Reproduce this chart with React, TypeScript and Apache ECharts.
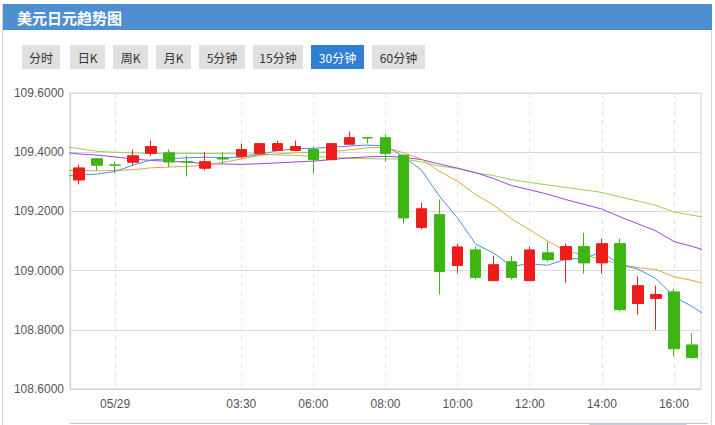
import React, { useEffect, useRef } from "react";
import * as echarts from "echarts";

// Time categories (first and last are just outside the visible window)
const categories: string[] = [
  "05/28 22:30", "05/28 23:00", "05/28 23:30", "05/29 00:00", "05/29 00:30", "05/29 01:00",
  "05/29 01:30", "05/29 02:00", "05/29 02:30", "05/29 03:00", "05/29 03:30", "05/29 04:30",
  "05/29 05:00", "05/29 05:30", "05/29 06:00", "05/29 06:30", "05/29 07:00", "05/29 07:30",
  "05/29 08:00", "05/29 08:30", "05/29 09:00", "05/29 09:30", "05/29 10:00", "05/29 10:30",
  "05/29 11:00", "05/29 11:30", "05/29 12:00", "05/29 12:30", "05/29 13:00", "05/29 13:30",
  "05/29 14:00", "05/29 14:30", "05/29 15:00", "05/29 15:30", "05/29 16:00", "05/29 16:30",
  "05/29 17:00",
];

const shownTicks: string[] = [
  "05/29 00:00", "05/29 03:30", "05/29 06:00", "05/29 08:00",
  "05/29 10:00", "05/29 12:00", "05/29 14:00", "05/29 16:00",
];

// [open, close, low, high] for the visible candles (index 1..35)
const ohlc: number[][] = [
  [109.306, 109.347, 109.291, 109.358],
  [109.378, 109.356, 109.338, 109.378],
  [109.357, 109.356, 109.329, 109.367],
  [109.366, 109.388, 109.355, 109.409],
  [109.396, 109.419, 109.388, 109.439],
  [109.398, 109.367, 109.35, 109.409],
  [109.368, 109.367, 109.318, 109.388],
  [109.346, 109.368, 109.339, 109.4],
  [109.38, 109.377, 109.361, 109.399],
  [109.386, 109.409, 109.379, 109.429],
  [109.395, 109.429, 109.395, 109.429],
  [109.406, 109.429, 109.404, 109.439],
  [109.406, 109.419, 109.406, 109.439],
  [109.409, 109.375, 109.328, 109.419],
  [109.375, 109.429, 109.375, 109.429],
  [109.427, 109.449, 109.427, 109.47],
  [109.449, 109.448, 109.43, 109.449],
  [109.449, 109.396, 109.368, 109.46],
  [109.39, 109.178, 109.159, 109.392],
  [109.146, 109.209, 109.139, 109.229],
  [109.189, 108.997, 108.919, 109.24],
  [109.017, 109.08, 108.99, 109.091],
  [109.07, 108.977, 108.97, 109.081],
  [108.966, 109.02, 108.966, 109.05],
  [109.03, 108.977, 108.97, 109.05],
  [108.966, 109.07, 108.966, 109.081],
  [109.06, 109.037, 109.03, 109.097],
  [109.037, 109.081, 108.959, 109.091],
  [109.081, 109.026, 108.99, 109.128],
  [109.026, 109.091, 108.99, 109.108],
  [109.091, 108.868, 108.862, 109.108],
  [108.889, 108.949, 108.851, 108.98],
  [108.906, 108.919, 108.8, 108.949],
  [108.928, 108.736, 108.711, 108.938],
  [108.749, 108.706, 108.703, 108.789],
];

// Moving-average lines (37 points, incl. one point beyond each edge)
const ma5: number[] = [
  109.318, 109.323, 109.326, 109.335, 109.356, 109.374, 109.378, 109.381, 109.383, 109.382,
  109.383, 109.392, 109.405, 109.412, 109.413, 109.417, 109.421, 109.424, 109.421, 109.385,
  109.339, 109.251, 109.177, 109.09, 109.059, 109.015, 109.023, 109.018, 109.039, 109.041,
  109.063, 109.02, 109.005, 108.973, 108.912, 108.879, 108.84,
];
const ma10: number[] = [
  109.338, 109.338, 109.337, 109.338, 109.341, 109.347, 109.35, 109.352, 109.356, 109.366,
  109.377, 109.389, 109.394, 109.398, 109.399, 109.401, 109.408, 109.415, 109.416, 109.398,
  109.377, 109.335, 109.302, 109.257, 109.221, 109.174, 109.138, 109.099, 109.067, 109.052,
  109.038, 109.021, 109.01, 109.004, 108.979, 108.967, 108.95,
];
const ma20: number[] = [
  109.401, 109.394, 109.39, 109.384, 109.377, 109.372, 109.369, 109.367, 109.361, 109.36,
  109.359, 109.361, 109.364, 109.367, 109.37, 109.375, 109.381, 109.384, 109.386, 109.383,
  109.375, 109.36, 109.346, 109.331, 109.311, 109.287, 109.273, 109.258, 109.24, 109.224,
  109.208, 109.182, 109.158, 109.134, 109.098, 109.082, 109.063,
];
const ma30: number[] = [
  109.421, 109.412, 109.403, 109.4, 109.398, 109.396, 109.396, 109.396, 109.395, 109.395,
  109.395, 109.393, 109.391, 109.389, 109.386, 109.383, 109.379, 109.378, 109.377, 109.377,
  109.367, 109.353, 109.345, 109.33, 109.321, 109.307, 109.298, 109.289, 109.281, 109.273,
  109.264, 109.249, 109.235, 109.22, 109.198, 109.187, 109.177,
];

const buttons: string[] = ["分时", "日K", "周K", "月K", "5分钟", "15分钟", "30分钟", "60分钟"];
const buttonX: number[][] = [
  [22, 38], [70, 35], [113, 35], [156, 35], [199, 46], [253, 50], [311, 53], [372, 53],
];
const activeButton = "30分钟";

const CJK = "'Noto Sans CJK SC', sans-serif";
const LATIN = "'Liberation Sans', Arial, sans-serif";

export default function App() {
  const ref = useRef<HTMLDivElement>(null);

  useEffect(() => {
    if (!ref.current) return;
    const chart = echarts.init(ref.current, undefined, { renderer: "svg" });

    const tickFn = (_i: number, v: string) => shownTicks.includes(v);
    const candleData = [["-", "-", "-", "-"], ...ohlc, ["-", "-", "-", "-"]];

    const graphic: any[] = [
      { type: "line", shape: { x1: 2.5, y1: 4, x2: 2.5, y2: 425 }, style: { stroke: "#d6d6d6", lineWidth: 1 } },
      { type: "line", shape: { x1: 711.5, y1: 4, x2: 711.5, y2: 425 }, style: { stroke: "#d6d6d6", lineWidth: 1 } },
      { type: "rect", shape: { x: 3, y: 4, width: 709, height: 26 }, style: { fill: "#4e8fd0" } },
      {
        type: "text", x: 17, y: 17,
        style: { text: "美元日元趋势图", fill: "#fff", font: `bold 15px ${CJK}`, verticalAlign: "middle" },
      },
      { type: "line", shape: { x1: 70, y1: 423.5, x2: 708, y2: 423.5 }, style: { stroke: "#c8c8c8", lineWidth: 1 } },
      { type: "rect", shape: { x: 589.5, y: 424.5, width: 97, height: 8 }, style: { fill: "#eef2f8", stroke: "#c5d0e0", lineWidth: 1 } },
    ];
    buttons.forEach((b, i) => {
      const [x, w] = buttonX[i];
      const active = b === activeButton;
      graphic.push({
        type: "rect", shape: { x, y: 45, width: w, height: 24 },
        style: { fill: active ? "#2f7fd3" : "#e0e0e0" },
      });
      graphic.push({
        type: "text", x: x + w / 2, y: 57,
        style: {
          text: b, fill: active ? "#fff" : "#333", font: `12px ${CJK}`,
          align: "center", verticalAlign: "middle",
        },
      });
    });

    const lineSeries = (name: string, data: number[], color: string) => ({
      name, type: "line", data, symbol: "none", showSymbol: false, smooth: false,
      lineStyle: { width: 1, color }, itemStyle: { color }, clip: true, z: 2,
    });

    chart.setOption({
      animation: false,
      backgroundColor: "#fff",
      graphic,
      grid: {
        left: 70, top: 93, width: 631, height: 296, show: true,
        borderColor: "#d2d2d2", borderWidth: 1, backgroundColor: "transparent",
      },
      xAxis: {
        type: "category", data: categories, min: 1, max: 35, boundaryGap: true,
        axisLine: { lineStyle: { color: "#cfcfcf" } },
        axisTick: { show: false },
        axisLabel: {
          interval: tickFn, color: "#555", fontSize: 12, fontFamily: LATIN, margin: 9,
          formatter: (v: string) => (v.endsWith("00:00") ? v.slice(0, 5) : v.slice(6)),
        },
        splitLine: {
          show: true, interval: tickFn, alignWithLabel: true,
          lineStyle: { color: "#e4e4e4", type: [5, 4], width: 1 },
        },
      },
      yAxis: {
        type: "value", min: 108.6, max: 109.6, interval: 0.2, scale: true,
        axisLine: { show: true, lineStyle: { color: "#cfcfcf" } },
        axisTick: { show: false },
        axisLabel: {
          color: "#555", fontSize: 12, fontFamily: LATIN, margin: 6,
          formatter: (v: number) => v.toFixed(4),
        },
        splitLine: { show: true, lineStyle: { color: "#dadada", width: 1 } },
      },
      series: [
        lineSeries("MA30", ma30, "#96d04e"),
        lineSeries("MA20", ma20, "#9d44dc"),
        lineSeries("MA10", ma10, "#dfa44c"),
        lineSeries("MA5", ma5, "#4a90e0"),
        {
          name: "K", type: "candlestick", data: candleData, barWidth: 11, z: 3,
          itemStyle: {
            color: "#ef1c1c", color0: "#3db514",
            borderColor: "#ef1c1c", borderColor0: "#3db514", borderWidth: 1,
          },
        },
      ],
    });

    return () => chart.dispose();
  }, []);

  return (
    <div
      ref={ref}
      style={{ position: "fixed", left: 0, top: 0, width: 715, height: 425, background: "#fff" }}
    />
  );
}
